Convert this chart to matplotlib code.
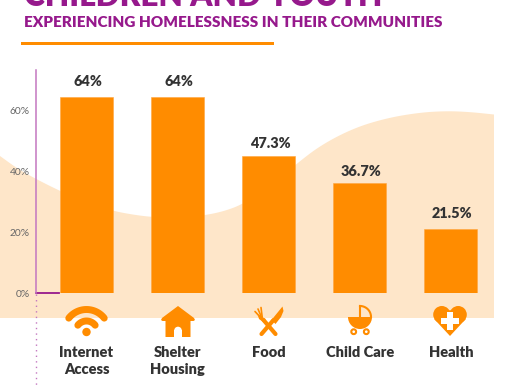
import numpy as np
import matplotlib
matplotlib.use('Agg')
import matplotlib.pyplot as plt
from matplotlib.patches import Circle, Polygon, Rectangle, Wedge

# Chart values
categories = ['Internet\nAccess', 'Shelter\nHousing', 'Food', 'Child Care', 'Health']
bar_heights = [64.3, 64.3, 45.0, 36.1, 21.1]
value_labels = ['64%', '64%', '47.3%', '36.7%', '21.5%']
y_ticks = [0, 20, 40, 60]
y_tick_labels = ['0%', '20%', '40%', '60%']

# Background wave outline in pixels
wave_px = [0, 18, 36, 60, 85, 113, 135, 152, 175, 204, 225, 243, 270, 295, 321, 354, 387, 420, 447, 470, 494]
wave_py = [156, 169, 179, 191, 202, 211, 215, 217, 218, 215.5, 211, 204, 187, 165, 145, 128, 118, 112.5, 111, 112, 114.5]

ORANGE = '#FF8C00'
CREAM = '#FEE6C9'
PURPLE = '#96198C'
LIGHT_PURPLE = '#C377C0'
DARK = '#333333'
W, H = 514, 386

plt.rcParams['font.family'] = ['Lato', 'DejaVu Sans']


def round_corners(xs, ys, passes=3):
	"""cut the corners of the outline so it reads as a curve"""
	pts = np.column_stack([xs, ys]).astype(float)
	for _ in range(passes):
		q = 0.75 * pts[:-1] + 0.25 * pts[1:]
		r = 0.25 * pts[:-1] + 0.75 * pts[1:]
		mid = np.empty((2 * len(q), 2))
		mid[0::2] = q
		mid[1::2] = r
		pts = np.vstack([pts[0], mid, pts[-1]])
	return pts


fig = plt.figure(figsize=(W / 100, H / 100), dpi=100)

# Pixel axes for everything that is decoration
deco = fig.add_axes([0, 0, 1, 1], zorder=0)
deco.set_xlim(0, W)
deco.set_ylim(H, 0)
deco.axis('off')

outline = round_corners(wave_px, wave_py)
deco.fill(list(outline[:, 0]) + [494, 0], list(outline[:, 1]) + [318, 318], color=CREAM, lw=0)

deco.text(24, 5.5, 'CHILDREN AND YOUTH', color=PURPLE, fontsize=22.7, fontweight='heavy', va='baseline')
deco.text(24, 27, 'EXPERIENCING HOMELESSNESS IN THEIR COMMUNITIES', color=PURPLE, fontsize=11,
	fontweight='heavy', va='baseline')
deco.add_patch(Rectangle((21, 42), 253, 3, color=ORANGE, lw=0))

# axis stubs
deco.plot([36, 36], [294, 386], color=LIGHT_PURPLE, lw=1, ls=(0, (1, 3)))
deco.plot([36, 59], [293, 293], color=PURPLE, lw=1.3)


def draw_wifi(c):
	deco.add_patch(Circle((c, 332), 4.2, color=ORANGE, lw=0))
	for r in [11, 22.5]:
		t = np.radians(np.linspace(218, 322, 40))
		deco.plot(c + r * np.cos(t), 332 + r * np.sin(t), color=ORANGE, lw=5, solid_capstyle='round')


def draw_house(c):
	deco.add_patch(Polygon([(c, 306), (c + 16, 318), (c + 17, 320), (c + 15.5, 321), (c + 12.5, 321),
		(c + 12.5, 337), (c - 12.5, 337), (c - 12.5, 321), (c - 15.5, 321), (c - 17, 320), (c - 16, 318)],
		color=ORANGE, lw=0))
	deco.add_patch(Rectangle((c - 3.8, 330), 7.6, 7, color='white', lw=0))
	deco.add_patch(Circle((c, 330.5), 3.8, color='white', lw=0))


def draw_cutlery(c):
	# knife
	deco.plot([c - 7, c + 5], [334, 320], color=ORANGE, lw=3, solid_capstyle='round')
	deco.add_patch(Polygon([(c + 14, 306.5), (c + 15, 311), (c + 12.5, 317), (c + 7, 324), (c + 3, 320)],
		color=ORANGE, lw=0))
	# fork
	deco.plot([c + 7, c - 5], [334, 320], color=ORANGE, lw=3, solid_capstyle='round')
	deco.add_patch(Polygon([(c - 4, 323), (c - 9.5, 319), (c - 11, 314), (c - 3, 319)], color=ORANGE, lw=0))
	for dx, dy in [(-13.5, 311.5), (-10.5, 309), (-7.5, 307.5)]:
		deco.plot([c - 6, c + dx], [319.5, dy], color=ORANGE, lw=1.2, solid_capstyle='round')


def draw_stroller(c):
	deco.add_patch(Wedge((c, 317), 12, 0, 180, color=ORANGE, lw=0))
	t = np.radians(np.linspace(270, 360, 30))
	deco.plot(c + 11 * np.cos(t), 317 + 11 * np.sin(t), color=ORANGE, lw=1.5)
	deco.plot([c, c], [306, 317], color=ORANGE, lw=1.5)
	for dx in [-6.3, 6.3]:
		deco.add_patch(Circle((c + dx, 331.7), 2.4, fc='white', ec=ORANGE, lw=1.5))


def draw_heart(c):
	deco.add_patch(Circle((c - 8.2, 314.6), 8.6, color=ORANGE, lw=0))
	deco.add_patch(Circle((c + 8.2, 314.6), 8.6, color=ORANGE, lw=0))
	deco.add_patch(Polygon([(c - 15.8, 319), (c, 336), (c + 15.8, 319), (c, 310)], color=ORANGE, lw=0))
	deco.add_patch(Rectangle((c - 9, 318), 18, 6.4, color='white', lw=0))
	deco.add_patch(Rectangle((c - 3.2, 312.2), 6.4, 18, color='white', lw=0))


icon_funcs = [draw_wifi, draw_house, draw_cutlery, draw_stroller, draw_heart]
icon_centres = [86.5, 178, 268.5, 360, 450]
for func, centre in zip(icon_funcs, icon_centres):
	func(centre)

# The chart itself, lined up on the pixel grid
ax = fig.add_axes([36 / W, (H - 293.3) / H, (494 - 36) / W, (293.3 - 70) / H], zorder=1)
ax.patch.set_alpha(0)
ax.set_xlim((36 - 86.5) / 91.1, (494 - 86.5) / 91.1)
ax.set_ylim(0, (293.3 - 70) / 3.05)

x = np.arange(len(categories))
ax.bar(x, bar_heights, width=0.58, color=ORANGE, edgecolor='#FFA640', linewidth=0.4)
# labels do not sit the same distance above each bar in the original
label_gaps = [6.5, 6.5, 4, 4, 6.5]
for xi, h, label, gap in zip(x, bar_heights, value_labels, label_gaps):
	ax.annotate(label, (xi, h), xytext=(1, gap), textcoords='offset points', ha='center', va='bottom',
		fontsize=10.4, fontweight='heavy', color=DARK)

for name in ['top', 'right', 'bottom']:
	ax.spines[name].set_visible(False)
ax.spines['left'].set_color(LIGHT_PURPLE)
ax.spines['left'].set_linewidth(1.1)

ax.set_yticks(y_ticks)
ax.set_yticklabels(y_tick_labels, fontsize=7.4, color='#666666')
ax.tick_params(axis='y', length=0, pad=4.5)
ax.set_xticks(x)
ax.set_xticklabels(categories, fontsize=10.5, fontweight='heavy', color=DARK, linespacing=1.4)
ax.tick_params(axis='x', length=0, pad=38)

fig.savefig('out.png', dpi=100)
